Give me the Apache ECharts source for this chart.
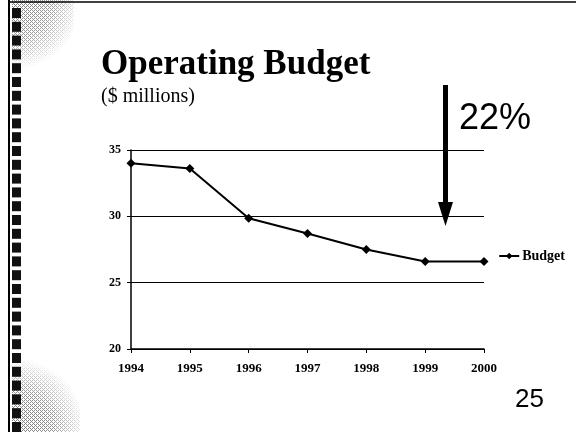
<!DOCTYPE html>
<html>
<head>
<meta charset="utf-8">
<script src="https://cdn.jsdelivr.net/npm/echarts@6/dist/echarts.min.js"></script>
<style>html,body{margin:0;padding:0;background:#fff}#c{width:576px;height:432px}</style>
</head>
<body>
<div id="c"></div>
<script>
var years = ['1994','1995','1996','1997','1998','1999','2000'];
var budget = [34.0, 33.6, 29.85, 28.7, 27.5, 26.6, 26.6];
var seriesName = 'Budget';
var yTicks = {min: 20, max: 35, interval: 5};

var chart = echarts.init(document.getElementById('c'), null, {renderer: 'canvas'});

// halftone-like pattern for the decorative border
var pc = document.createElement('canvas');
pc.width = 4; pc.height = 4;
var pctx = pc.getContext('2d');
pctx.fillStyle = '#fff'; pctx.fillRect(0,0,4,4);
pctx.fillStyle = '#555';
pctx.fillRect(0,0,1,1); pctx.fillRect(2,2,1,1); pctx.fillRect(2,0,1,1); pctx.fillRect(0,2,1,1);
pctx.fillRect(1,3,1,1); pctx.fillRect(3,1,1,1);

var deco = [];
deco.push({type:'rect', shape:{x:0,y:0,width:576,height:432}, style:{fill:'#fff'}, z:-10, silent:true});
deco.push({type:'rect', shape:{x:12,y:0,width:62,height:95}, style:{fill:{image: pc, repeat: 'repeat'}, opacity:0.75}, z:-6, silent:true});
deco.push({type:'rect', shape:{x:12,y:0,width:64,height:96}, style:{fill:new echarts.graphic.RadialGradient(0, 0, 1.1, [{offset:0,color:'rgba(255,255,255,0)'},{offset:0.55,color:'rgba(255,255,255,0.2)'},{offset:1,color:'rgba(255,255,255,1)'}])}, z:-5, silent:true});
deco.push({type:'rect', shape:{x:12,y:285,width:68,height:147}, style:{fill:{image: pc, repeat: 'repeat'}, opacity:0.8}, z:-6, silent:true});
deco.push({type:'rect', shape:{x:12,y:285,width:68,height:147}, style:{fill:new echarts.graphic.RadialGradient(0, 1, 1.1, [{offset:0,color:'rgba(255,255,255,0)'},{offset:0.55,color:'rgba(255,255,255,0.2)'},{offset:1,color:'rgba(255,255,255,1)'}])}, z:-5, silent:true});
deco.push({type:'line', shape:{x1:9,y1:0,x2:9,y2:432}, style:{stroke:'#000',lineWidth:2}, silent:true});
deco.push({type:'line', shape:{x1:9,y1:2,x2:576,y2:2}, style:{stroke:'#000',lineWidth:1.5}, silent:true});
for (var i = 0; i < 31; i++) {
  deco.push({type:'rect', shape:{x:12,y:8 + i*13.8,width:9,height:10}, style:{fill:'#111'}, silent:true});
}
// arrow annotation
deco.push({type:'rect', shape:{x:443,y:85,width:5,height:120}, style:{fill:'#000'}, silent:true});
deco.push({type:'polygon', shape:{points:[[438,202],[453,202],[445.5,226]]}, style:{fill:'#000'}, silent:true});
deco.push({type:'text', left:459, top:101, style:{text:'22%', font:'36px "Liberation Sans", Arial, sans-serif', fill:'#000'}, silent:true});
deco.push({type:'text', left:515, top:387, style:{text:'25', font:'26px "Liberation Sans", Arial, sans-serif', fill:'#000'}, silent:true});

var option = {
  animation: false,
  backgroundColor: '#fff',
  title: [
    {text: 'Operating Budget', left: 96, top: 42,
     textStyle: {fontFamily: '"Liberation Serif", "Times New Roman", serif', fontWeight: 'bold', fontSize: 35, color: '#000'}},
    {text: '($ millions)', left: 96, top: 82,
     textStyle: {fontFamily: '"Liberation Serif", "Times New Roman", serif', fontWeight: 'normal', fontSize: 20, color: '#000'}}
  ],
  legend: {
    right: 6, top: 244, orient: 'vertical',
    itemWidth: 20, itemHeight: 8, itemGap: 4,
    textStyle: {fontFamily: '"Liberation Serif", serif', fontWeight: 'bold', fontSize: 14, color: '#000', padding: [0,0,0,-2]},
    data: [seriesName]
  },
  grid: {left: 131, right: 92, top: 150, bottom: 83, containLabel: false},
  xAxis: {
    type: 'category', data: years, boundaryGap: false,
    axisLine: {lineStyle: {color: '#000', width: 1.5}},
    axisTick: {show: true, length: 4, lineStyle: {color: '#000'}},
    axisLabel: {color: '#000', fontFamily: '"Liberation Serif", serif', fontWeight: 'bold', fontSize: 13, margin: 13},
    splitLine: {show: false}
  },
  yAxis: {
    type: 'value', min: yTicks.min, max: yTicks.max, interval: yTicks.interval,
    axisLine: {show: true, lineStyle: {color: '#000', width: 1.5}},
    axisTick: {show: true, length: 4, lineStyle: {color: '#000'}},
    axisLabel: {color: '#000', fontFamily: '"Liberation Serif", serif', fontWeight: 'bold', fontSize: 12, margin: 10},
    splitLine: {show: true, lineStyle: {color: '#000', width: 1}}
  },
  series: [{
    name: seriesName, type: 'line', data: budget,
    symbol: 'diamond', symbolSize: 9, showSymbol: true,
    lineStyle: {color: '#000', width: 2},
    itemStyle: {color: '#000'}
  }],
  graphic: deco
};
chart.setOption(option);
</script>
</body>
</html>
